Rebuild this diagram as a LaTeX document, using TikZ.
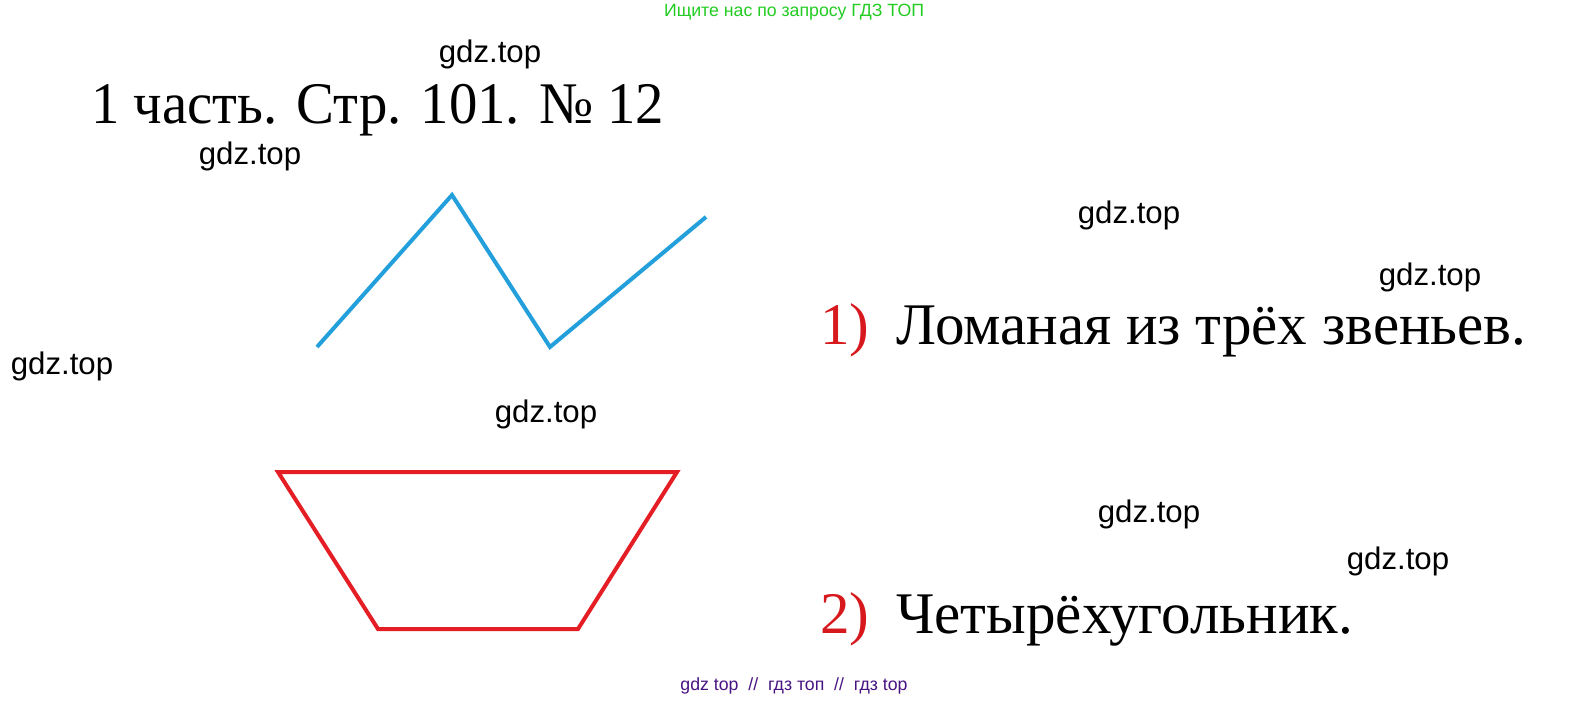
\documentclass[tikz,border=0pt]{standalone}
\usepackage{fontspec}
\setmainfont{Liberation Serif}
\newfontfamily\wmfont{Liberation Sans}
\definecolor{wmgreen}{RGB}{34,204,34}
\definecolor{wmpurple}{RGB}{72,20,130}
\definecolor{lineblue}{RGB}{35,160,220}
\definecolor{linered}{RGB}{228,30,36}
\definecolor{numred}{RGB}{215,25,30}
\begin{document}
\begin{tikzpicture}[x=0.5pt,y=-0.5pt,
  wm/.style={inner sep=0pt,font=\wmfont\fontsize{15.6pt}{18pt}\selectfont},
  big/.style={inner sep=0pt,anchor=base west,font=\fontsize{29.5pt}{34pt}\selectfont},
  small/.style={inner sep=0pt,font=\wmfont\fontsize{8.85pt}{10pt}\selectfont},
  poly/.style={line width=2pt,line join=miter}]
\useasboundingbox[fill=white] (0,0) rectangle (1588,701);
% header / footer
\node[small,text=wmgreen] (hdr) at (794,12) {Ищите нас по запросу ГДЗ ТОП};
\node[small,text=wmpurple] (ftr) at (794,686) {gdz top \ // \ гдз топ \ // \ гдз top};
% title
\node[big] (title) at (91,123) {\scalebox{0.962}[1]{1 часть. Стр. 101. № 12}};
% watermarks
\node[wm] (w1) at (490,54) {gdz.top};
\node[wm] (w2) at (250,156) {gdz.top};
\node[wm] (w3) at (1129,215) {gdz.top};
\node[wm] (w4) at (1430,277) {gdz.top};
\node[wm] (w5) at (62,366) {gdz.top};
\node[wm] (w6) at (546,414) {gdz.top};
\node[wm] (w7) at (1149,514) {gdz.top};
\node[wm] (w8) at (1398,561) {gdz.top};
% polyline
\coordinate (b1) at (317,347);
\coordinate (b2) at (452,195);
\coordinate (b3) at (550,347);
\coordinate (b4) at (706,217);
\draw[poly,lineblue] (b1) -- (b2) -- (b3) -- (b4);
% trapezoid
\coordinate (r1) at (278,472);
\coordinate (r2) at (677,472);
\coordinate (r3) at (578,629);
\coordinate (r4) at (378,629);
\draw[poly,linered] (r1) -- (r2) -- (r3) -- (r4) -- cycle;
% answers
\node[big,text=numred] (n1) at (820,344) {1)};
\node[big] (a1) at (896,344) {Ломаная из трёх звеньев.};
\node[big,text=numred] (n2) at (820,633) {2)};
\node[big] (a2) at (896,633) {Четырёхугольник.};
\end{tikzpicture}
\end{document}
